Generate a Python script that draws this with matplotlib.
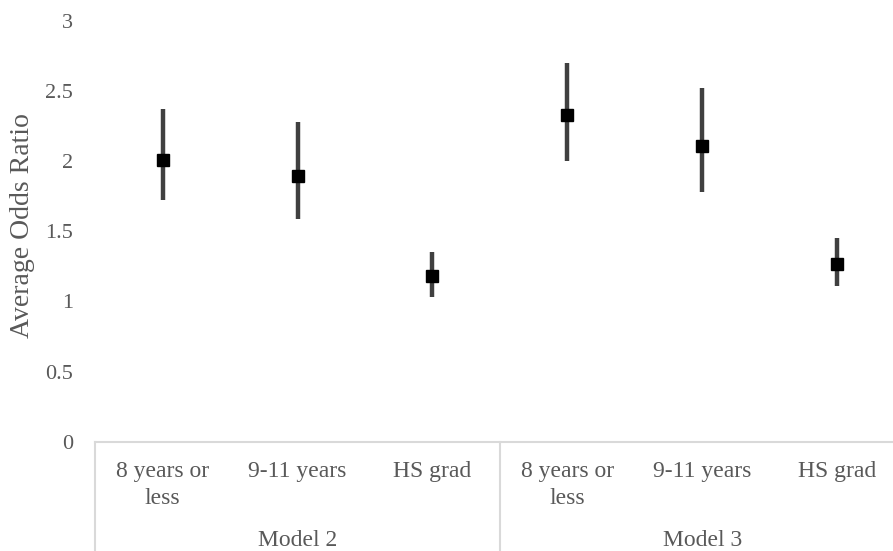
import matplotlib
matplotlib.use("Agg")
import matplotlib.pyplot as plt
import matplotlib.transforms as mtransforms

categories = ["8 years or\nless", "9-11 years", "HS grad", "8 years or\nless", "9-11 years", "HS grad"]
groups = ["Model 2", "Model 3"]
odds = [2.01, 1.89, 1.18, 2.33, 2.11, 1.27]
lower = [1.72, 1.59, 1.03, 2.00, 1.78, 1.11]
upper = [2.37, 2.28, 1.35, 2.70, 2.52, 1.45]
yticks = [0, 0.5, 1, 1.5, 2, 2.5, 3]
ytick_labels = ["0", "0.5", "1", "1.5", "2", "2.5", "3"]

W, H = 893, 551
fig = plt.figure(figsize=(W / 100, H / 100), dpi=100)
left_px, right_px, bottom_px, top_px = 95, 905, 442, 20.5
ax = fig.add_axes([left_px / W, (H - bottom_px) / H, (right_px - left_px) / W, (bottom_px - top_px) / H])

plt.rcParams['font.family'] = ['Liberation Serif', 'DejaVu Serif']
txt_color = "#595959"
font = "Liberation Serif"

x = list(range(len(odds)))
yerr = [[o - l for o, l in zip(odds, lower)], [u - o for o, u in zip(odds, upper)]]
ax.errorbar(x, odds, yerr=yerr, fmt="none", ecolor="#404040", elinewidth=3.2, capsize=0, zorder=2)
ax.plot(x, odds, linestyle="none", marker="s", markersize=9.3, color="black", zorder=3)

ax.set_xlim(-0.5, len(odds) - 0.5)
ax.set_ylim(0, 3)
ax.set_yticks(yticks)
ax.set_yticklabels(ytick_labels, fontfamily=font, fontsize=16, color=txt_color)
ax.set_xticks(x)
ax.set_xticklabels(categories, fontfamily=font, fontsize=17, color=txt_color, linespacing=1.38)
ax.tick_params(axis="both", length=0)
ax.tick_params(axis="y", pad=16)
ax.tick_params(axis="x", pad=13.5)
for s in ["left", "right", "top"]:
    ax.spines[s].set_visible(False)
ax.spines["bottom"].set_color("#d9d9d9")
ax.spines["bottom"].set_linewidth(1.5)

fig.text(22.5 / W, 1 - 226 / H, "Average Odds Ratio", rotation=90, ha="center", va="center",
         fontfamily=font, fontsize=20, color=txt_color)

trans = mtransforms.blended_transform_factory(ax.transData, ax.transAxes)
ax_h = bottom_px - top_px
ybot = -(H - bottom_px) / ax_h
for b in [-0.5, 2.5, 5.5]:
    ax.plot([b, b], [0, ybot], transform=trans, color="#d9d9d9", lw=1.5, clip_on=False)
for i, g in enumerate(groups):
    ax.text(i * 3 + 1, -(540 - bottom_px) / ax_h, g, transform=trans, ha="center", va="center",
            fontfamily=font, fontsize=17, color=txt_color)

fig.savefig("out.png", dpi=100)
